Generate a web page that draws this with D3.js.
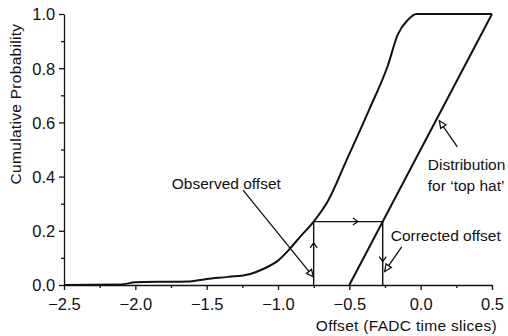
<!DOCTYPE html>
<html><head><meta charset="utf-8">
<script src="https://cdn.jsdelivr.net/npm/d3@7"></script>
<style>body{margin:0;background:#fff}svg{display:block}text{font-family:"Liberation Sans",Arial,sans-serif;fill:#111}</style>
</head><body><svg id="c" width="508" height="336"></svg>
<script>
// Observed cumulative distribution
const obsX = [-2.5, -2.1, -2.0, -1.8, -1.62, -1.5, -1.35, -1.2, -1.1, -1.0, -0.92, -0.85, -0.75, -0.65, -0.52, -0.36, -0.23, -0.16, -0.09, -0.03, 0.5];
const obsY = [0, 0.002, 0.01, 0.012, 0.013, 0.022, 0.03, 0.04, 0.06, 0.09, 0.132, 0.175, 0.234, 0.31, 0.46, 0.648, 0.81, 0.925, 0.978, 1.0, 1.0];
// 'top hat' distribution
const hatX = [-0.5, 0.5];
const hatY = [0, 1];
// correction path: observed -> corrected
const observedOffset = -0.75;
const correctedOffset = -0.266;
const pathLevel = 0.234;
const xTicks = [-2.5, -2.0, -1.5, -1.0, -0.5, 0.0, 0.5];
const yTicks = [0.0, 0.2, 0.4, 0.6, 0.8, 1.0];
const xMinor = [-2.25, -1.75, -1.25, -0.75, -0.25, 0.25];
const yMinor = [0.1, 0.3, 0.5, 0.7, 0.9];
const annotations = [
  {lines: ["Observed offset"], tx: -1.745, ty: 0.354, from: [-1.245, 0.35], to: [-0.752, 0.03]},
  {lines: ["Corrected offset"], tx: -0.21, ty: 0.163, from: [-0.133, 0.141], to: [-0.252, 0.05]},
  {lines: ["Distribution", "for \u2018top hat\u2019"], tx: 0.05, ty: 0.424, from: [0.257, 0.51], to: [0.131, 0.606]}
];

const svg = d3.select("#c");
const x = d3.scaleLinear().domain([-2.5, 0.5]).range([64, 492]);
const y = d3.scaleLinear().domain([0, 1]).range([285, 14]);
const FS = 16.5, AFS = 15.5;

// axes
const ax = svg.append("g").attr("transform", `translate(0,${y(0)})`)
  .call(d3.axisBottom(x).tickValues(xTicks).tickFormat(d3.format(".1f")).tickSize(5).tickSizeOuter(0));
svg.append("g").attr("transform", `translate(0,${y(0)})`)
  .call(d3.axisBottom(x).tickValues(xMinor).tickFormat("").tickSize(3)).select(".domain").remove();
const ay = svg.append("g").attr("transform", `translate(${x(-2.5)},0)`)
  .call(d3.axisLeft(y).tickValues(yTicks).tickFormat(d3.format(".1f")).tickSize(5).tickSizeOuter(0));
svg.append("g").attr("transform", `translate(${x(-2.5)},0)`)
  .call(d3.axisLeft(y).tickValues(yMinor).tickFormat("").tickSize(3)).select(".domain").remove();
svg.selectAll(".domain, .tick line").attr("stroke", "#111").attr("stroke-width", 1.3);
ax.selectAll(".tick text").attr("font-size", FS).attr("dy", "1.05em").style("font-family", "Liberation Sans, Arial").attr("fill", "#111");
ay.selectAll(".tick text").attr("font-size", FS).attr("dx", "-0.05em").attr("dy", "0.36em").style("font-family", "Liberation Sans, Arial").attr("fill", "#111");

// titles
svg.append("text").attr("x", 497).attr("y", 331).attr("text-anchor", "end")
  .attr("font-size", 15.5).attr("letter-spacing", 0.3).text("Offset (FADC time slices)");
svg.append("text").attr("transform", "translate(21,104) rotate(-90)").attr("text-anchor", "middle")
  .attr("font-size", 15.5).attr("letter-spacing", 0.3).text("Cumulative Probability");

// curves
const line = d3.line().x(d => x(d[0])).y(d => y(d[1])).curve(d3.curveMonotoneX);
svg.append("path").datum(obsX.map((v, i) => [v, obsY[i]])).attr("d", line)
  .attr("fill", "none").attr("stroke", "#111").attr("stroke-width", 2);
svg.append("path").datum(hatX.map((v, i) => [v, hatY[i]])).attr("d", d3.line().x(d => x(d[0])).y(d => y(d[1])))
  .attr("fill", "none").attr("stroke", "#111").attr("stroke-width", 2);

// correction path
const pathPts = [[observedOffset, 0], [observedOffset, pathLevel], [correctedOffset, pathLevel], [correctedOffset, 0]];
svg.append("path").datum(pathPts).attr("d", d3.line().x(d => x(d[0])).y(d => y(d[1])))
  .attr("fill", "none").attr("stroke", "#111").attr("stroke-width", 1.4);
function chevron(px, py, angle) {
  svg.append("path").attr("d", "M-5,-3.5L0,0L-5,3.5")
    .attr("transform", `translate(${px},${py}) rotate(${angle})`)
    .attr("fill", "none").attr("stroke", "#111").attr("stroke-width", 1.3);
}
chevron(x(observedOffset), y(0.155), -90);
chevron(x(-0.44), y(pathLevel), 0);
chevron(x(correctedOffset), y(0.086), 90);

// annotations
annotations.forEach(a => {
  const t = svg.append("text").attr("x", x(a.tx)).attr("y", y(a.ty)).attr("font-size", AFS);
  a.lines.forEach((l, i) => t.append("tspan").attr("x", x(a.tx)).attr("dy", i ? 20.5 : 0).text(l));
  const x1 = x(a.from[0]), y1 = y(a.from[1]), x2 = x(a.to[0]), y2 = y(a.to[1]);
  const ang = Math.atan2(y2 - y1, x2 - x1) * 180 / Math.PI;
  svg.append("line").attr("x1", x1).attr("y1", y1).attr("x2", x2).attr("y2", y2)
    .attr("stroke", "#111").attr("stroke-width", 1.3);
  svg.append("path").attr("d", "M0,0L-7,-3.2L-7,3.2Z")
    .attr("transform", `translate(${x2},${y2}) rotate(${ang})`)
    .attr("fill", "#fff").attr("stroke", "#111").attr("stroke-width", 1.3);
});
</script></body></html>
